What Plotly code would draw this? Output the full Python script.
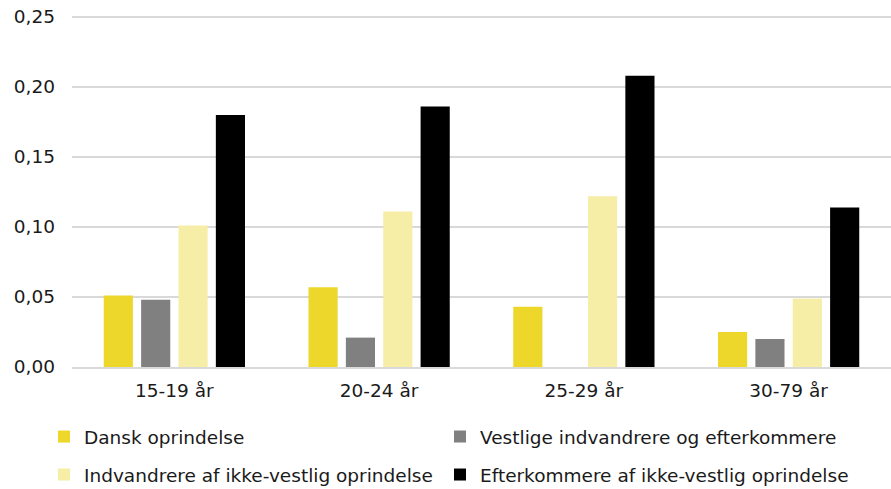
import plotly.graph_objects as go

categories = ["15-19 år", "20-24 år", "25-29 år", "30-79 år"]
series_names = [
    "Dansk oprindelse",
    "Vestlige indvandrere og efterkommere",
    "Indvandrere af ikke-vestlig oprindelse",
    "Efterkommere af ikke-vestlig oprindelse",
]
dansk = [0.051, 0.057, 0.043, 0.025]
vestlige = [0.048, 0.021, None, 0.020]
indvandrere = [0.101, 0.111, 0.122, 0.049]
efterkommere = [0.180, 0.186, 0.208, 0.114]
tick_vals = [0.0, 0.05, 0.10, 0.15, 0.20, 0.25]

colors = ["#ECD72A", "#808080", "#F6EDA7", "#000000"]
values = [dansk, vestlige, indvandrere, efterkommere]
legend_ids = ["legend", "legend2", "legend3", "legend4"]

W, H = 891, 489
legend_pos = [(44, 437), (440, 437), (44, 475), (440, 475)]  # px (x left, y center)

font = dict(family="DejaVu Sans, Verdana, sans-serif", size=18.5, color="#1a1a1a")

fig = go.Figure()
for name, vals, col, lg in zip(series_names, values, colors, legend_ids):
    fig.add_trace(go.Bar(x=categories, y=vals, name=name, marker_color=col,
                         marker_line_width=0, legend=lg))

layout = dict(
    width=W, height=H,
    margin=dict(l=72, r=0, t=14, b=122, autoexpand=False),
    plot_bgcolor="white", paper_bgcolor="white",
    font=font, showlegend=True,
    barmode="group", bargap=0.27, bargroupgap=0.22,
    separators=",.",
    yaxis=dict(range=[0, 0.25214], tickvals=tick_vals, tickformat=".2f",
               showgrid=True, gridcolor="#d9d9d9", gridwidth=2,
               zeroline=False, showline=False, ticks="", automargin=False,
               ticklabelstandoff=16),
    xaxis=dict(showline=True, linecolor="#d9d9d9", linewidth=2, ticks="",
               tickangle=0, automargin=False, ticklabelstandoff=6),
)
for lg, (px, py) in zip(legend_ids, legend_pos):
    layout[lg] = dict(x=px / W, y=1 - py / H,
                      xref="container", yref="container",
                      xanchor="left", yanchor="middle", font=font,
                      bgcolor="rgba(0,0,0,0)", orientation="h", visible=True)
fig.update_layout(**layout)
fig.write_html("out.html",
               config={"displayModeBar": False},
               post_script="document.body.style.margin='0';document.body.style.overflow='hidden';")
